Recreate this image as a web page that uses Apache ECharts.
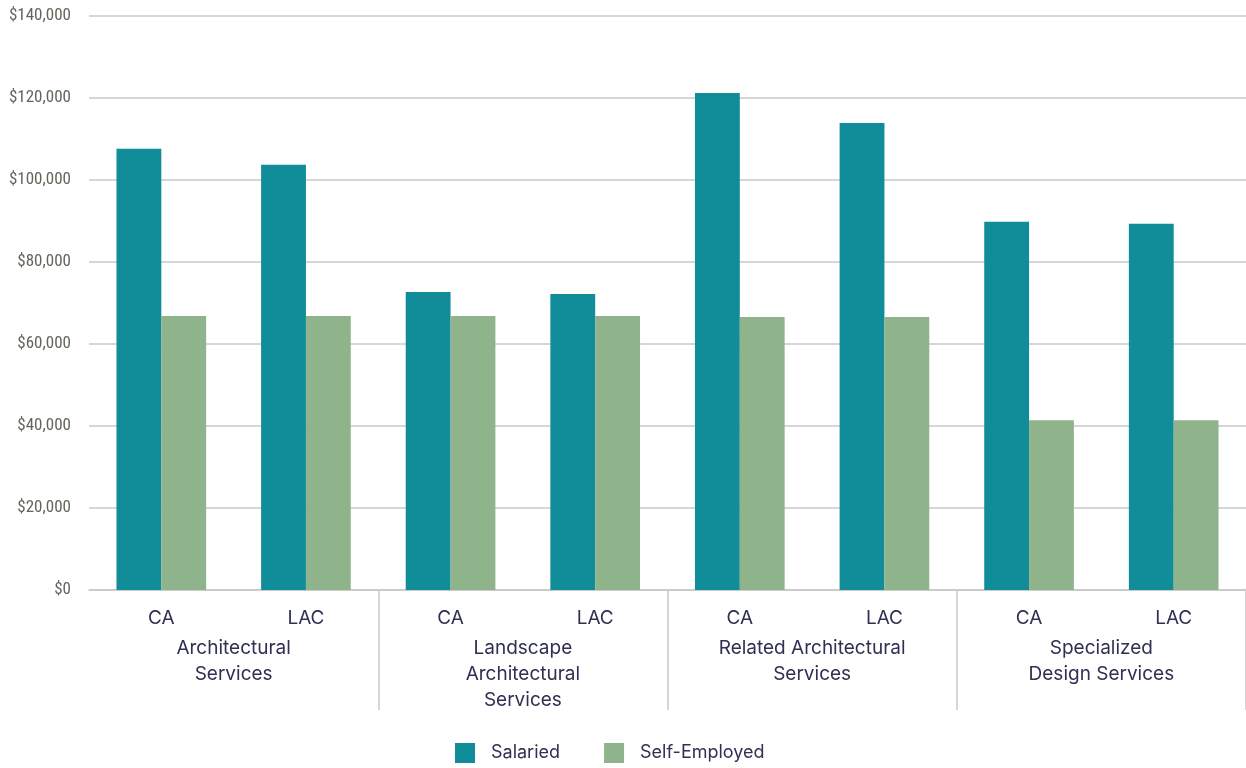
<!DOCTYPE html>
<html>
<head>
<meta charset="utf-8">
<title>echarts</title>
<style type="text/css">
  html, body { height: 100%; width: 100%; margin: 0; padding: 0; overflow: hidden; background: #fff; }
  #main { height: 768px; width: 1246px; }
</style>
<script src="https://cdn.jsdelivr.net/npm/echarts@6/dist/echarts.min.js"></script>
</head>
<body>
<div id="main"></div>
<script>
  // data
  var regions = ['CA', 'LAC', 'CA', 'LAC', 'CA', 'LAC', 'CA', 'LAC'];
  var groups = ['Architectural\nServices', 'Landscape\nArchitectural\nServices', 'Related Architectural\nServices', 'Specialized\nDesign Services'];
  var salaried = [107600, 103700, 72700, 72200, 121200, 113900, 89800, 89300];
  var selfEmployed = [66800, 66800, 66800, 66800, 66600, 66600, 41400, 41400];

  var gridColor = '#c8c8c8';
  var textColor = '#2f3052';

  var myChart = echarts.init(document.getElementById('main'));
  myChart.setOption({
    animation: false,
    grid: { left: 89, top: 16, width: 1160, height: 574 },
    legend: {
      top: 738,
      left: 450,
      itemWidth: 20,
      itemHeight: 20,
      itemGap: 44,
      icon: 'rect',
      textStyle: { color: textColor, fontSize: 18, fontFamily: 'Inter, Roboto, sans-serif', padding: [0, 0, 0, 11] },
      data: ['Salaried', 'Self-Employed']
    },
    xAxis: [
      {
        type: 'category',
        data: regions,
        axisLine: { lineStyle: { color: gridColor, width: 1.5 } },
        axisTick: { show: false },
        axisLabel: { color: textColor, fontSize: 19, lineHeight: 26, margin: 15, fontFamily: 'Inter, Roboto, sans-serif' }
      },
      {
        type: 'category',
        data: groups,
        position: 'bottom',
        axisLine: { show: false },
        axisTick: {
          show: true,
          length: 120,
          lineStyle: { color: gridColor, width: 1.5 },
          interval: function (index) { return index > 0; }
        },
        axisLabel: { color: textColor, fontSize: 19, lineHeight: 26, margin: 45, fontFamily: 'Inter, Roboto, sans-serif' }
      }
    ],
    yAxis: {
      type: 'value',
      min: 0,
      max: 140000,
      interval: 20000,
      axisLine: { show: false },
      axisTick: { show: false },
      splitLine: { lineStyle: { color: gridColor, width: 1.5 } },
      axisLabel: {
        color: '#62665a',
        fontSize: 17,
        margin: 18,
        fontFamily: '"Liberation Sans Narrow", "Roboto Condensed", sans-serif',
        formatter: function (v) { return '$' + v.toLocaleString('en-US'); }
      }
    },
    series: [
      {
        name: 'Salaried',
        type: 'bar',
        data: salaried,
        barGap: '0%',
        barCategoryGap: '38%',
        itemStyle: { color: '#108d98' }
      },
      {
        name: 'Self-Employed',
        type: 'bar',
        data: selfEmployed,
        itemStyle: { color: '#8fb48b' }
      }
    ]
  });
</script>
</body>
</html>
